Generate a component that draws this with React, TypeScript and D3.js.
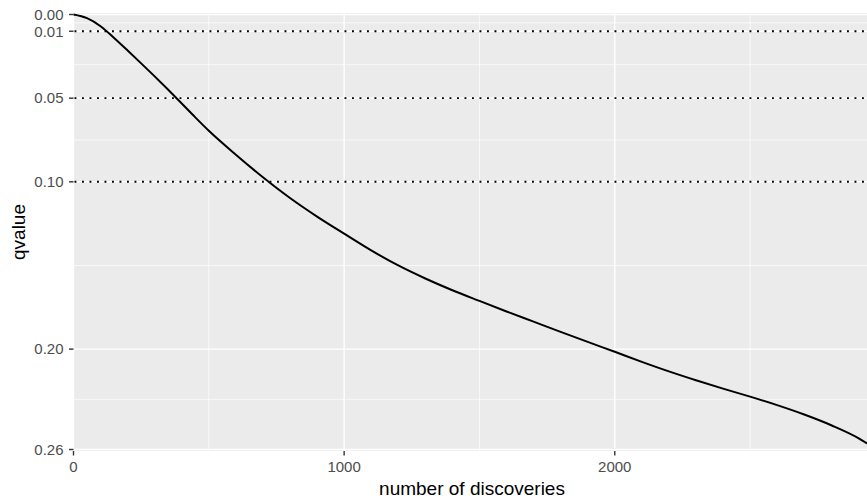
import React from "react";
import * as d3 from "d3";

const discoveries = [0, 50, 100, 150, 200, 250, 300, 350, 400, 450, 500, 600, 700, 800, 900, 1000, 1100, 1200, 1300, 1400, 1500, 1600, 1700, 1800, 1900, 2000, 2100, 2200, 2300, 2400, 2500, 2600, 2700, 2800, 2900, 2932];
const qvalues = [0, 0.0022, 0.007, 0.014, 0.0215, 0.0292, 0.037, 0.045, 0.0532, 0.0615, 0.0695, 0.0838, 0.0973, 0.1097, 0.1208, 0.131, 0.141, 0.15, 0.1578, 0.1648, 0.1712, 0.1775, 0.1836, 0.1897, 0.1957, 0.2016, 0.2076, 0.2133, 0.2186, 0.2236, 0.2284, 0.2335, 0.2391, 0.2455, 0.2532, 0.2564];

const yBreaks = [0, 0.01, 0.05, 0.1, 0.2, 0.26];
const yLabels = ["0.00", "0.01", "0.05", "0.10", "0.20", "0.26"];
const yMinor = [0.005, 0.03, 0.075, 0.15, 0.23];
const xBreaks = [0, 1000, 2000];
const xLabels = ["0", "1000", "2000"];
const xMinor = [500, 1500, 2500];
const cutoffs = [0.01, 0.05, 0.1];

const W = 867;
const H = 499;
const panel = { left: 73.5, right: 867, top: 13, bottom: 451 };

export default function App() {
  const x = d3.scaleLinear().domain([0, 2932]).range([73.5, 867]);
  const y = d3.scaleLinear().domain([0, 0.26]).range([14.5, 449.5]);
  const pts: [number, number][] = discoveries.map((d, i) => [d, qvalues[i]]);
  const line = d3
    .line<[number, number]>()
    .x((d) => x(d[0]))
    .y((d) => y(d[1]))
    .curve(d3.curveMonotoneX);
  const font = "'Liberation Sans', Arial, Helvetica, sans-serif";
  return (
    <div style={{ position: "absolute", left: 0, top: 0 }}>
      <svg width={W} height={H} style={{ display: "block", fontFamily: font }}>
        <rect x={0} y={0} width={W} height={H} fill="#ffffff" />
        <rect
          x={panel.left}
          y={panel.top}
          width={panel.right - panel.left}
          height={panel.bottom - panel.top}
          fill="#EBEBEB"
        />
        {yMinor.map((v) => (
          <line key={"ym" + v} x1={panel.left} x2={panel.right} y1={y(v)} y2={y(v)} stroke="#fff" strokeWidth={0.7} />
        ))}
        {xMinor.map((v) => (
          <line key={"xm" + v} x1={x(v)} x2={x(v)} y1={panel.top} y2={panel.bottom} stroke="#fff" strokeWidth={0.7} />
        ))}
        {yBreaks.map((v) => (
          <line key={"yM" + v} x1={panel.left} x2={panel.right} y1={y(v)} y2={y(v)} stroke="#fff" strokeWidth={1.4} />
        ))}
        {xBreaks.map((v) => (
          <line key={"xM" + v} x1={x(v)} x2={x(v)} y1={panel.top} y2={panel.bottom} stroke="#fff" strokeWidth={1.4} />
        ))}
        {cutoffs.map((v) => (
          <line
            key={"c" + v}
            x1={panel.left + 1}
            x2={panel.right}
            y1={y(v)}
            y2={y(v)}
            stroke="#000"
            strokeWidth={1.9}
            strokeDasharray="1.9 5.6"
          />
        ))}
        <path d={line(pts) || ""} fill="none" stroke="#000" strokeWidth={2} strokeLinejoin="round" />
        {yBreaks.map((v, i) => (
          <g key={"yt" + v}>
            <line x1={panel.left - 4.5} x2={panel.left} y1={y(v)} y2={y(v)} stroke="#333333" strokeWidth={1.4} />
            <text x={63.5} y={y(v) + 5.3} textAnchor="end" fontSize={15} fill="#4D4D4D">
              {yLabels[i]}
            </text>
          </g>
        ))}
        {xBreaks.map((v, i) => (
          <g key={"xt" + v}>
            <line x1={x(v)} x2={x(v)} y1={panel.bottom} y2={panel.bottom + 4.5} stroke="#333333" strokeWidth={1.4} />
            <text x={x(v)} y={472} textAnchor="middle" fontSize={15} fill="#4D4D4D">
              {xLabels[i]}
            </text>
          </g>
        ))}
        <text x={472} y={495} textAnchor="middle" fontSize={19} fill="#000">
          number of discoveries
        </text>
        <text
          transform={`translate(24.5, ${(panel.top + panel.bottom) / 2}) rotate(-90)`}
          textAnchor="middle"
          fontSize={19}
          fill="#000"
        >
          qvalue
        </text>
      </svg>
    </div>
  );
}
